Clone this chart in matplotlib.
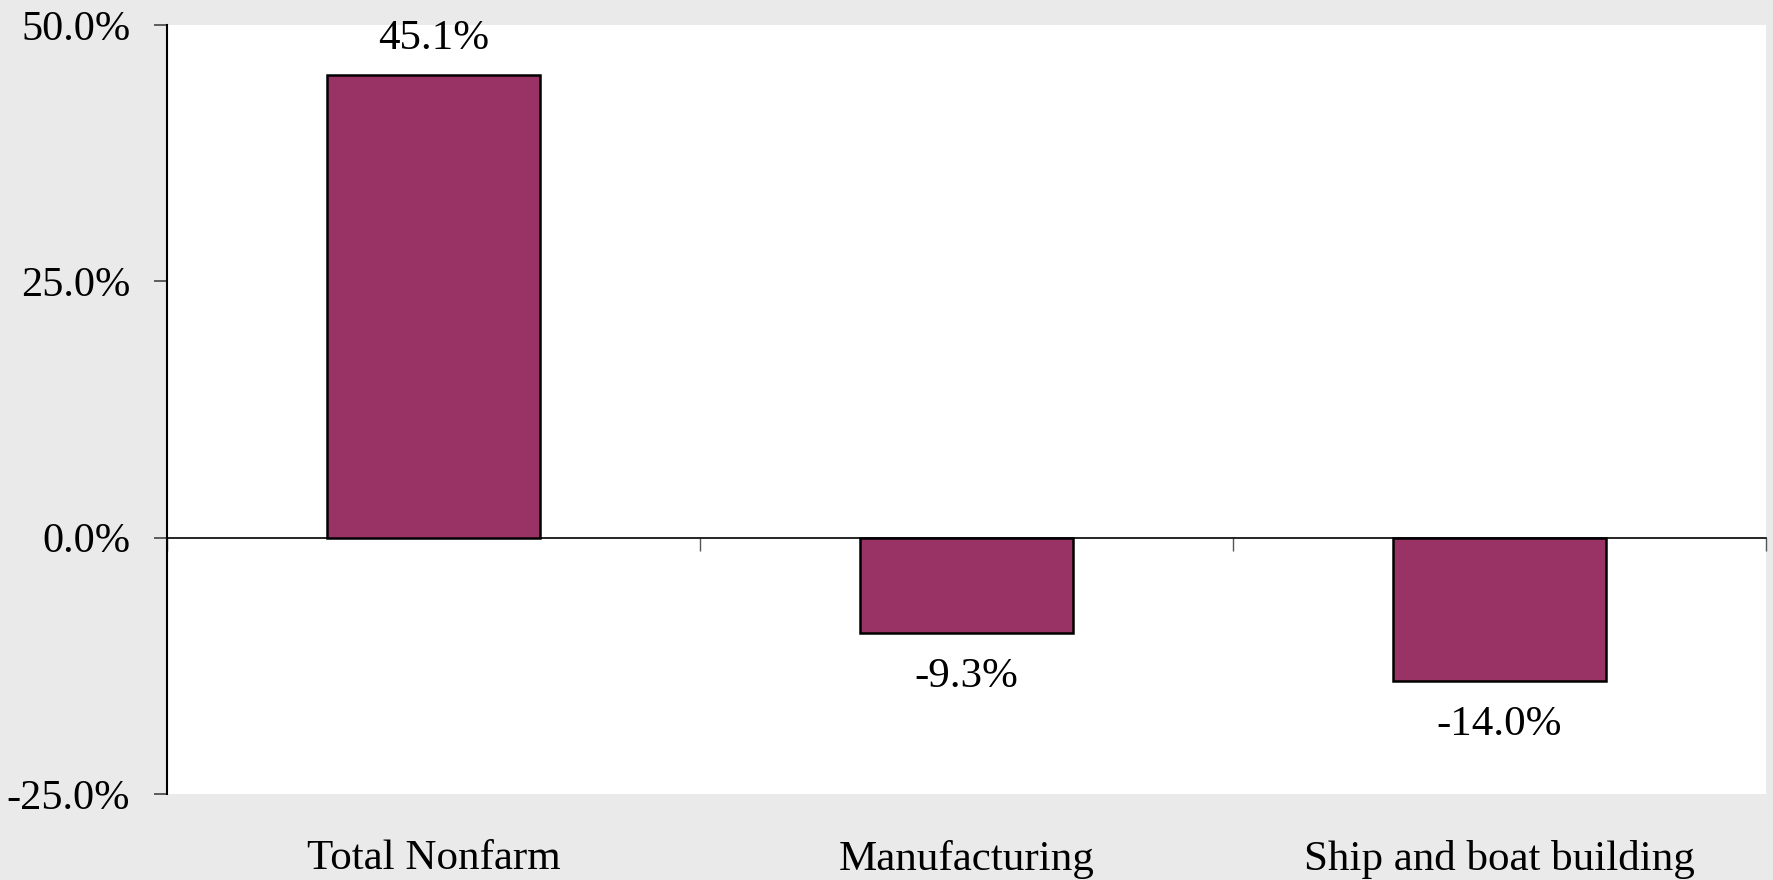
import numpy as np
import matplotlib
matplotlib.use("Agg")
import matplotlib.pyplot as plt
from matplotlib.ticker import FuncFormatter

categories = ["Total Nonfarm", "Manufacturing", "Ship and boat building"]
values = [45.1, -9.3, -14.0]
yticks = [-25.0, 0.0, 25.0, 50.0]

plt.rcParams['font.family'] = ['Liberation Serif', 'DejaVu Serif']

fig = plt.figure(figsize=(17.74, 8.8), dpi=100, facecolor='#EAEAEA')
ax = fig.add_axes([0.0941, 0.0977, 0.9955 - 0.0941, 0.9716 - 0.0977])
ax.set_facecolor('white')

x = np.arange(len(categories))
bars = ax.bar(x, values, width=0.40, color='#993366', edgecolor='black', linewidth=1.8, zorder=3)

ax.set_xlim(-0.5, len(categories) - 0.5)
ax.set_ylim(-25, 50)
ax.set_yticks(yticks)
ax.yaxis.set_major_formatter(FuncFormatter(lambda v, p: f"{v:.1f}%"))
ax.tick_params(axis='y', direction='out', length=9.4, width=1.2, color='#444444',
               labelsize=30.5, pad=17)

ax.set_xticks(x)
ax.set_xticklabels(categories)
ax.tick_params(axis='x', length=0, labelsize=31, pad=33)

for s in ['top', 'right', 'bottom']:
    ax.spines[s].set_visible(False)
ax.spines['left'].set_linewidth(1.5)
ax.spines['left'].set_color('black')

# zero line with category boundary ticks
loc = (0 - (-25)) / (50 - (-25))
sec = ax.secondary_xaxis(loc)
sec.set_xticks(np.arange(len(categories) + 1) - 0.5)
sec.set_xticklabels([''] * (len(categories) + 1))
sec.tick_params(axis='x', direction='out', length=9.4, width=1.0, color='#555555')
sec.spines['bottom'].set_linewidth(1.2)
sec.spines['bottom'].set_color('black')

for b, v in zip(bars, values):
    off = 36 if v >= 0 else -44
    ax.annotate(f"{v:.1f}%", (b.get_x() + b.get_width() / 2, v),
                xytext=(0, off), textcoords='offset pixels',
                ha='center', va='center', fontsize=31)

fig.savefig("out.png", dpi=100, facecolor=fig.get_facecolor())
